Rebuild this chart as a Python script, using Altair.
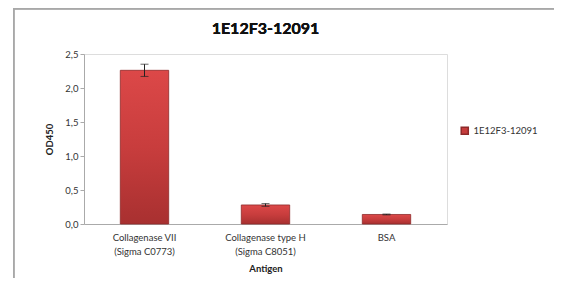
import altair as alt
import pandas as pd

categories = ["Collagenase VII|(Sigma C0773)", "Collagenase type H|(Sigma C8051)", "BSA"]
values = [2.26, 0.28, 0.14]
errors = [0.09, 0.02, 0.006]
series = "1E12F3-12091"
y_ticks = [0, 0.5, 1.0, 1.5, 2.0, 2.5]

df = pd.DataFrame({
    "Antigen": categories,
    "OD450": values,
    "lo": [v - e for v, e in zip(values, errors)],
    "hi": [v + e for v, e in zip(values, errors)],
    "series": [series] * len(categories),
})

FONT = "Lato"

x_axis = alt.Axis(labelAngle=0, labelExpr="split(datum.label, '|')",
                  labelFontSize=9.5, labelColor="#333", labelFont=FONT,
                  labelPadding=8, labelLineHeight=14,
                  ticks=False, domainColor="#aaa",
                  titleFont=FONT, titleFontSize=9.5, titleFontWeight="bold",
                  titleColor="#222", titlePadding=8)
x_scale = alt.Scale(paddingInner=0.6, paddingOuter=0.3)
y_axis = alt.Axis(values=y_ticks, grid=False, labelOverlap=False,
                  labelExpr="replace(format(datum.value, '.1f'), '.', ',')",
                  labelFontSize=9.5, labelColor="#333", labelFont=FONT,
                  tickColor="#aaa", tickSize=4, domainColor="#aaa",
                  titleFont=FONT, titleFontSize=9.5, titleFontWeight="bold",
                  titleColor="#222", titlePadding=10)
y_scale = alt.Scale(domain=[0, 2.5], nice=False)


def X():
    return alt.X("Antigen:N", sort=categories, title="Antigen", scale=x_scale, axis=x_axis)


def Y(field):
    return alt.Y(field, title="OD450", scale=y_scale, axis=y_axis)


grad = alt.Gradient(gradient="linear", x1=0, x2=0, y1=0, y2=1,
                    stops=[alt.GradientStop(color="#DC4848", offset=0),
                           alt.GradientStop(color="#C83D3D", offset=0.5),
                           alt.GradientStop(color="#A83030", offset=1)])

bars = alt.Chart(df).mark_bar(fill=grad, stroke="#8E2A2A", strokeWidth=0.8).encode(
    x=X(), y=Y("OD450:Q"),
    color=alt.Color("series:N",
                    scale=alt.Scale(range=["#C63C3C"]),
                    legend=alt.Legend(title=None, orient="none", legendX=376, legendY=72,
                                      symbolType="square", symbolSize=50,
                                      labelFont=FONT, labelFontSize=9.5, labelColor="#333")),
)

err = alt.Chart(df).mark_rule(color="#222", strokeWidth=1).encode(
    x=X(), y=Y("lo:Q"), y2="hi:Q")
caps_hi = alt.Chart(df).mark_tick(color="#222", thickness=1, size=8).encode(
    x=X(), y=Y("hi:Q"))
caps_lo = alt.Chart(df).mark_tick(color="#222", thickness=1, size=8).encode(
    x=X(), y=Y("lo:Q"))

title = alt.Chart(df).mark_text(font=FONT, fontSize=16, fontWeight="bold",
                                color="#111", align="center", baseline="middle").encode(
    x=alt.value(181.5), y=alt.value(-25), text=alt.value(series))

frame_left = alt.Chart(df).mark_rect(color="#a8a8a8").encode(
    x=alt.value(-71), x2=alt.value(-69.5), y=alt.value(-46), y2=alt.value(300))
frame_top = alt.Chart(df).mark_rect(color="#a8a8a8").encode(
    x=alt.value(-71), x2=alt.value(470), y=alt.value(-46), y2=alt.value(-44.5))

chart = alt.layer(bars, err, caps_hi, caps_lo, title, frame_left, frame_top).properties(
    width=363, height=170,
    autosize=alt.AutoSizeParams(type="none"),
    padding={"left": 76, "top": 46, "right": 109, "bottom": 54},
).configure_view(stroke=None).configure(background="white")

chart.save("out.html", embed_options={"renderer": "svg", "actions": False})
